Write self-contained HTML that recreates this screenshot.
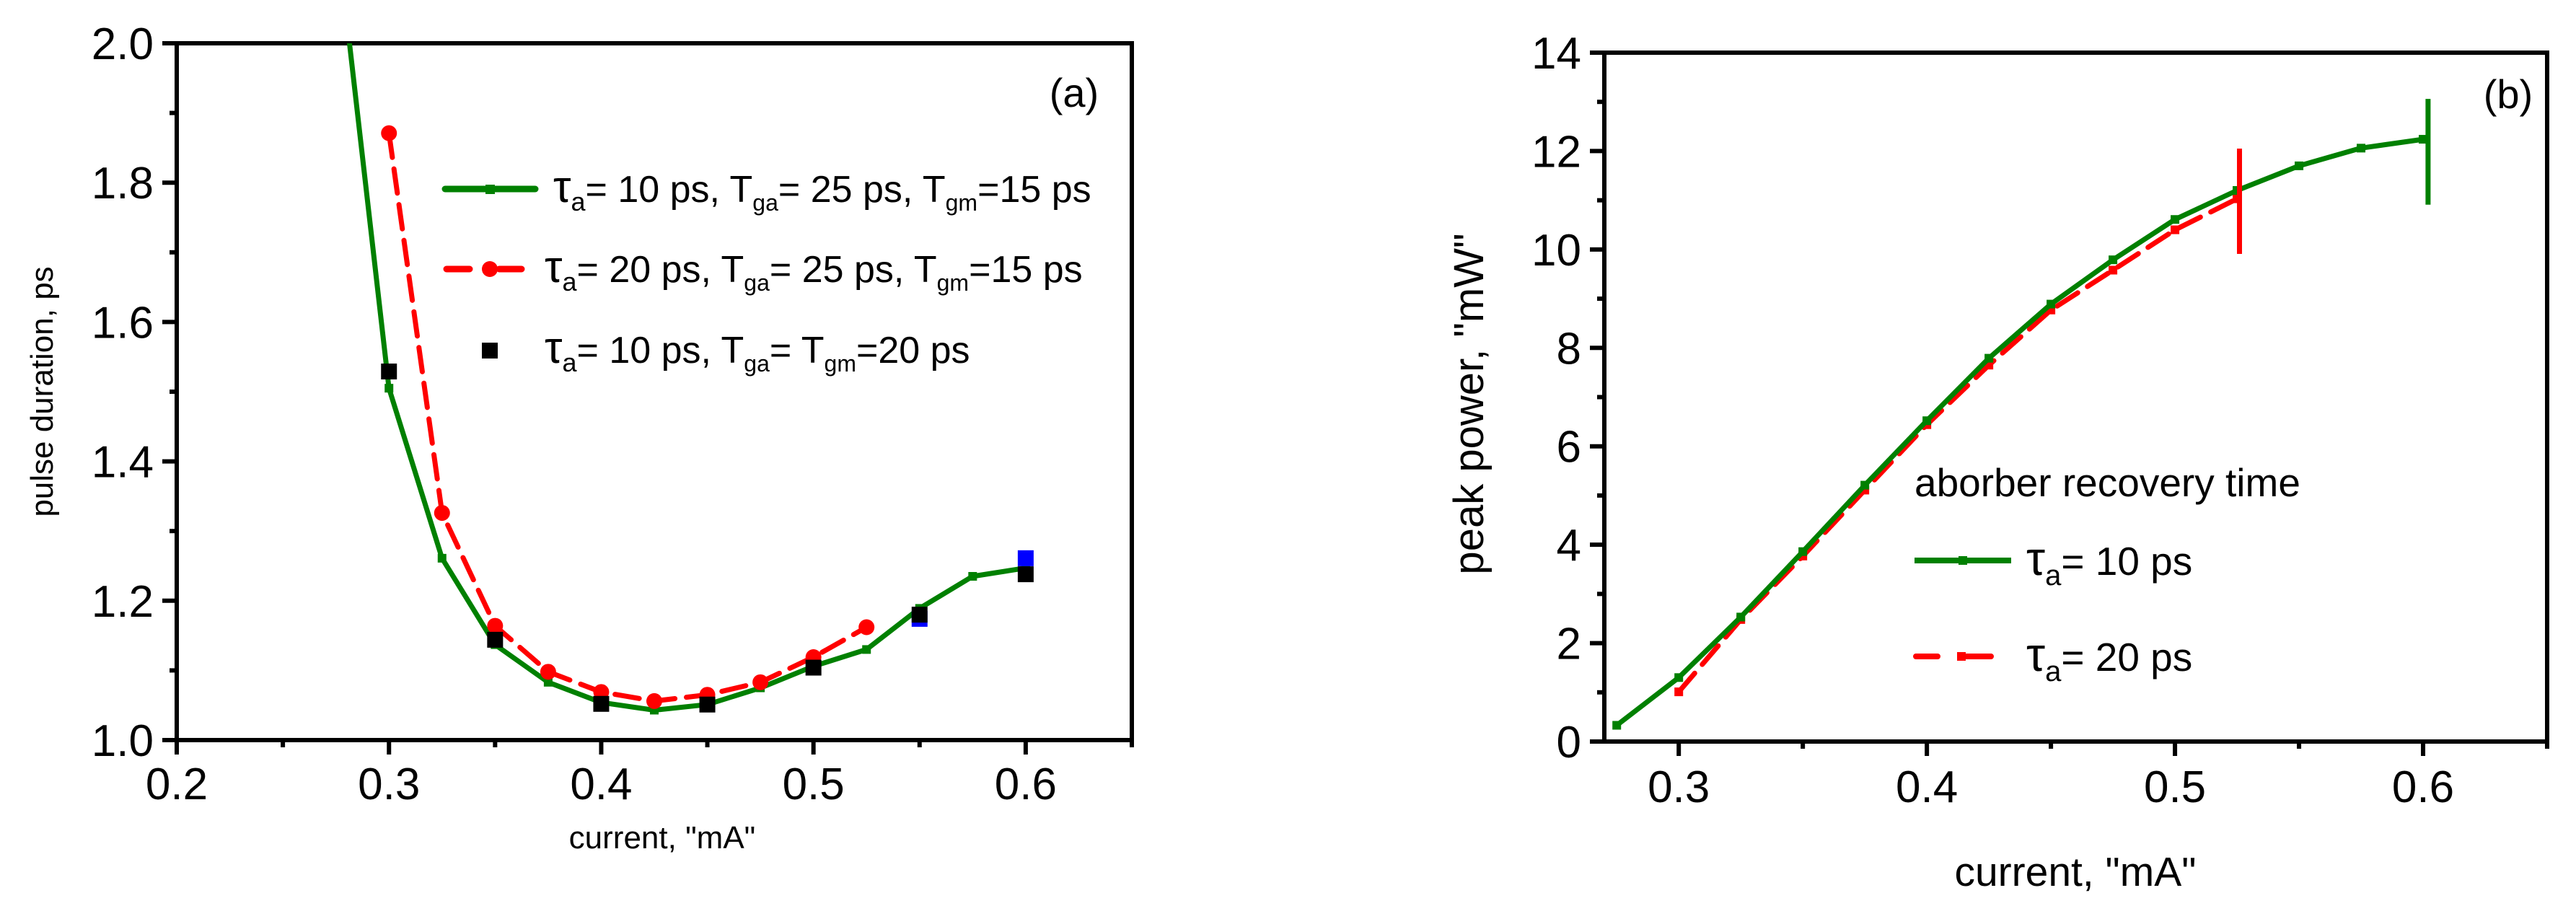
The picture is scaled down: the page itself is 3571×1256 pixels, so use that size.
<!DOCTYPE html>
<html><head><meta charset="utf-8"><style>
body{margin:0;background:#fff}
svg{display:block;font-family:"Liberation Sans",sans-serif}
</style></head><body>
<svg id="chart" width="3571" height="1256" xmlns="http://www.w3.org/2000/svg">
<defs>
<clipPath id="clipA"><rect x="245" y="60" width="1324" height="966"/></clipPath>
<clipPath id="clipB"><rect x="2224" y="73" width="1307" height="955"/></clipPath>
</defs>
<g id="panelA"></g>
<g id="panelB"></g>
</svg>
<script>
// Panel (a) data
const aGreenX=[0.275,0.3,0.325,0.35,0.375,0.4,0.425,0.45,0.475,0.5,0.525,0.55,0.575,0.6];
const aGreenY=[2.17,1.505,1.261,1.137,1.083,1.054,1.043,1.051,1.075,1.106,1.130,1.189,1.235,1.247];
const aRedX=[0.3,0.325,0.35,0.375,0.4,0.425,0.45,0.475,0.5,0.525];
const aRedY=[1.871,1.326,1.164,1.098,1.069,1.056,1.065,1.083,1.119,1.162];
const aBlackX=[0.3,0.35,0.4,0.45,0.5,0.55,0.6];
const aBlackY=[1.529,1.144,1.052,1.051,1.104,1.180,1.238];
const aBlueX=[0.55,0.6];
const aBlueY=[1.174,1.261];
const aXTicks=[0.2,0.3,0.4,0.5,0.6];
const aXTickLabels=["0.2","0.3","0.4","0.5","0.6"];
const aYTicks=[1.0,1.2,1.4,1.6,1.8,2.0];
const aYTickLabels=["1.0","1.2","1.4","1.6","1.8","2.0"];
// Panel (b) data
const bGreenX=[0.275,0.3,0.325,0.35,0.375,0.4,0.425,0.45,0.475,0.5,0.525,0.55,0.575,0.6];
const bGreenY=[0.33,1.30,2.53,3.86,5.21,6.52,7.79,8.89,9.79,10.61,11.20,11.70,12.06,12.24];
const bRedX=[0.3,0.325,0.35,0.375,0.4,0.425,0.45,0.475,0.5,0.525];
const bRedY=[1.01,2.48,3.77,5.11,6.44,7.65,8.77,9.58,10.40,11.03];
const bGreenErr=[0.602,10.91,13.06];
const bRedErr=[0.526,9.91,12.05];
const bXTicks=[0.3,0.4,0.5,0.6];
const bXTickLabels=["0.3","0.4","0.5","0.6"];
const bYTicks=[0,2,4,6,8,10,12,14];
const bYTickLabels=["0","2","4","6","8","10","12","14"];

const NS="http://www.w3.org/2000/svg";
function mk(parent,tag,attrs,text){const e=document.createElementNS(NS,tag);for(const k in attrs)e.setAttribute(k,attrs[k]);if(text!==undefined)e.textContent=text;parent.appendChild(e);return e;}

// axes functions
const axA={x0:245,x1:1569,y0:1026,y1:60,xmin:0.2,xmax:0.65,ymin:1.0,ymax:2.0};
const axB={x0:2224,x1:3531,y0:1028,y1:73,xmin:0.27,xmax:0.65,ymin:0,ymax:14};
function sx(a,v){return a.x0+(v-a.xmin)/(a.xmax-a.xmin)*(a.x1-a.x0);}
function sy(a,v){return a.y0-(v-a.ymin)/(a.ymax-a.ymin)*(a.y0-a.y1);}

function frame(g,a,xt,xtl,yt,ytl,xMinor,yMinor,fs,xlabY){
  const f=mk(g,'rect',{x:a.x0,y:a.y1,width:a.x1-a.x0,height:a.y0-a.y1,fill:'none',stroke:'#000','stroke-width':6});
  
  xt.forEach((v,i)=>{const x=sx(a,v);
    const t=mk(g,'line',{x1:x,y1:a.y0,x2:x,y2:a.y0+20,stroke:'#000','stroke-width':6});
    
    const l=mk(g,'text',{x:x,y:xlabY,'font-size':fs,'text-anchor':'middle'},xtl[i]);
    });
  xMinor.forEach(v=>{const x=sx(a,v);
    const t=mk(g,'line',{x1:x,y1:a.y0,x2:x,y2:a.y0+10,stroke:'#000','stroke-width':6});
    });
  yt.forEach((v,i)=>{const y=sy(a,v);
    const t=mk(g,'line',{x1:a.x0-20,y1:y,x2:a.x0,y2:y,stroke:'#000','stroke-width':6});
    
    const l=mk(g,'text',{x:a.x0-32,y:y+22,'font-size':fs,'text-anchor':'end'},ytl[i]);
    });
  yMinor.forEach(v=>{const y=sy(a,v);
    const t=mk(g,'line',{x1:a.x0-10,y1:y,x2:a.x0,y2:y,stroke:'#000','stroke-width':6});
    });
}
function path(a,X,Y){return X.map((v,i)=>(i?'L':'M')+sx(a,v).toFixed(1)+','+sy(a,Y[i]).toFixed(1)).join(' ');}

// ---- Panel A ----
const gA=document.getElementById('panelA');
frame(gA,axA,aXTicks,aXTickLabels,aYTicks,aYTickLabels,[0.25,0.35,0.45,0.55,0.65],[1.1,1.3,1.5,1.7,1.9],62,1108);
const pA=mk(gA,'g',{'clip-path':'url(#clipA)'});

const ag=mk(pA,'path',{d:path(axA,aGreenX,aGreenY),fill:'none',stroke:'#008000','stroke-width':7,'stroke-linejoin':'round'});

aGreenX.forEach((v,i)=>{const m=mk(pA,'rect',{x:sx(axA,v)-6,y:sy(axA,aGreenY[i])-6,width:12,height:12,fill:'#008000'});
  });
const ar=mk(pA,'path',{d:path(axA,aRedX,aRedY),fill:'none',stroke:'#ff0000','stroke-width':7,'stroke-dasharray':'34 16','stroke-linecap':'round'});

aRedX.forEach((v,i)=>{const m=mk(pA,'circle',{cx:sx(axA,v),cy:sy(axA,aRedY[i]),r:11,fill:'#ff0000'});
  });
aBlueX.forEach((v,i)=>{const m=mk(pA,'rect',{x:sx(axA,v)-11,y:sy(axA,aBlueY[i])-11,width:22,height:22,fill:'#0000ff'});
  });
aBlackX.forEach((v,i)=>{const m=mk(pA,'rect',{x:sx(axA,v)-11,y:sy(axA,aBlackY[i])-11,width:22,height:22,fill:'#000'});
  });
let t=mk(gA,'text',{x:1489,y:148,'font-size':56,'text-anchor':'middle'},'(a)');

t=mk(gA,'text',{x:0,y:0,'font-size':44,'text-anchor':'middle',transform:'translate(73,543) rotate(-90)'},'pulse duration, ps');

t=mk(gA,'text',{x:918,y:1176,'font-size':44,'text-anchor':'middle'},'current, "mA"');

// legend A
function legText(g,x,y,fs,parts){const e=mk(g,'text',{x:x,y:y,'font-size':fs});
  parts.forEach(p=>{const s=mk(e,'tspan',p[1]?{'font-size':fs*0.62,dy:p[1]}:{},p[0]);});return e;}
const lgA=mk(gA,'g',{});
let l=mk(lgA,'line',{x1:617,y1:262,x2:742,y2:262,stroke:'#008000','stroke-width':9,'stroke-linecap':'round'});

mk(lgA,'rect',{x:673,y:256,width:13,height:13,fill:'#008000'});
t=mk(lgA,'text',{x:767,y:280,'font-size':52});

t.innerHTML='<tspan font-size="62">τ</tspan><tspan font-size="36" dy="12">a</tspan><tspan dy="-12">= 10 ps, T</tspan><tspan font-size="32" dy="12">ga</tspan><tspan dy="-12">= 25 ps, T</tspan><tspan font-size="32" dy="12">gm</tspan><tspan dy="-12">=15 ps</tspan>';
l=mk(lgA,'path',{d:'M619,373 H651 M692,373 H723',stroke:'#ff0000','stroke-width':9,'stroke-linecap':'round'});

mk(lgA,'circle',{cx:679,cy:373,r:11,fill:'#ff0000'});
t=mk(lgA,'text',{x:755,y:391,'font-size':52});

t.innerHTML='<tspan font-size="62">τ</tspan><tspan font-size="36" dy="12">a</tspan><tspan dy="-12">= 20 ps, T</tspan><tspan font-size="32" dy="12">ga</tspan><tspan dy="-12">= 25 ps, T</tspan><tspan font-size="32" dy="12">gm</tspan><tspan dy="-12">=15 ps</tspan>';
l=mk(lgA,'rect',{x:668,y:475,width:22,height:22,fill:'#000'});

t=mk(lgA,'text',{x:755,y:503,'font-size':52});

t.innerHTML='<tspan font-size="62">τ</tspan><tspan font-size="36" dy="12">a</tspan><tspan dy="-12">= 10 ps, T</tspan><tspan font-size="32" dy="12">ga</tspan><tspan dy="-12">=  T</tspan><tspan font-size="32" dy="12">gm</tspan><tspan dy="-12">=20 ps</tspan>';

// ---- Panel B ----
const gB=document.getElementById('panelB');
frame(gB,axB,bXTicks,bXTickLabels,bYTicks,bYTickLabels,[0.35,0.45,0.55,0.65],[1,3,5,7,9,11,13],62,1112);
const pB=mk(gB,'g',{'clip-path':'url(#clipB)'});

const br=mk(pB,'path',{d:path(axB,bRedX,bRedY),fill:'none',stroke:'#ff0000','stroke-width':7,'stroke-dasharray':'34 16','stroke-linecap':'round'});

bRedX.forEach((v,i)=>{const m=mk(pB,'rect',{x:sx(axB,v)-6,y:sy(axB,bRedY[i])-6,width:12,height:12,fill:'#ff0000'});
  });
const bg=mk(pB,'path',{d:path(axB,bGreenX,bGreenY),fill:'none',stroke:'#008000','stroke-width':7,'stroke-linejoin':'round'});

bGreenX.forEach((v,i)=>{const m=mk(pB,'rect',{x:sx(axB,v)-6,y:sy(axB,bGreenY[i])-6,width:12,height:12,fill:'#008000'});
  });
let e=mk(pB,'line',{x1:sx(axB,bGreenErr[0]),x2:sx(axB,bGreenErr[0]),y1:sy(axB,bGreenErr[1]),y2:sy(axB,bGreenErr[2]),stroke:'#008000','stroke-width':7});

e=mk(pB,'line',{x1:sx(axB,bRedErr[0]),x2:sx(axB,bRedErr[0]),y1:sy(axB,bRedErr[1]),y2:sy(axB,bRedErr[2]),stroke:'#ff0000','stroke-width':7});

t=mk(gB,'text',{x:3477,y:150,'font-size':56,'text-anchor':'middle'},'(b)');

t=mk(gB,'text',{x:0,y:0,'font-size':58,'text-anchor':'middle',transform:'translate(2056,560) rotate(-90)'},'peak power, "mW"');

t=mk(gB,'text',{x:2877,y:1228,'font-size':57,'text-anchor':'middle'},'current, "mA"');

const lgB=mk(gB,'g',{});
t=mk(lgB,'text',{x:2654,y:688,'font-size':55},'aborber recovery time');

l=mk(lgB,'line',{x1:2654,y1:777,x2:2788,y2:777,stroke:'#008000','stroke-width':8});

mk(lgB,'rect',{x:2715,y:771,width:12,height:12,fill:'#008000'});
t=mk(lgB,'text',{x:2809,y:797,'font-size':55});

t.innerHTML='<tspan font-size="66">τ</tspan><tspan font-size="40" dy="14">a</tspan><tspan dy="-14">= 10 ps</tspan>';
l=mk(lgB,'path',{d:'M2656,910 H2686 M2722,910 H2760',stroke:'#ff0000','stroke-width':8,'stroke-linecap':'round'});

mk(lgB,'rect',{x:2713,y:904,width:12,height:12,fill:'#ff0000'});
t=mk(lgB,'text',{x:2809,y:930,'font-size':55});

t.innerHTML='<tspan font-size="66">τ</tspan><tspan font-size="40" dy="14">a</tspan><tspan dy="-14">= 20 ps</tspan>';
</script>
</body></html>
